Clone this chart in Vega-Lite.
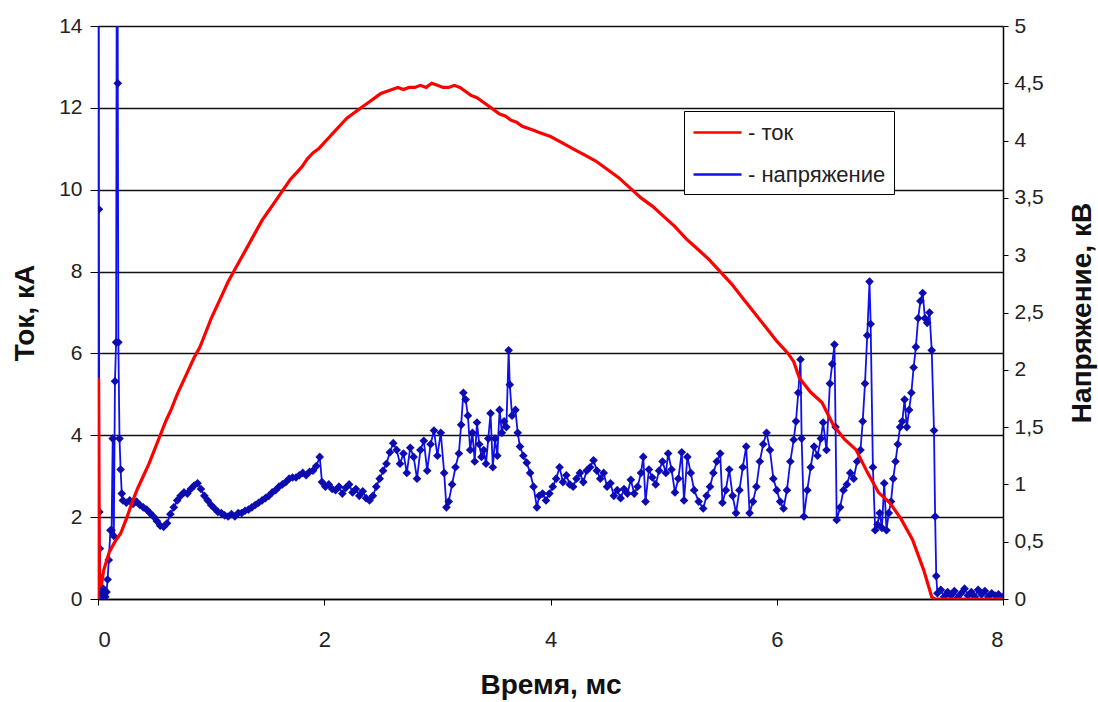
{
"$schema": "https://vega.github.io/schema/vega-lite/v6.json",
"width": 905,
"height": 573,
"autosize": "none",
"padding": {"left": 98, "top": 26, "right": 95, "bottom": 103},
"background": "white",
"config": {
  "view": {"stroke": null},
  "font": "Liberation Sans",
  "axis": {"labelFont": "Liberation Sans", "titleFont": "Liberation Sans", "labelColor": "#222", "titleColor": "#111", "domainColor": "#000", "tickColor": "#000", "labelFontSize": 21, "titleFontSize": 28, "titleFontWeight": "bold"}
},
"datasets": {
"current": [
{"t":0,"I":0},{"t":0.005,"I":5.4},{"t":0.012,"I":0.3},{"t":0.03,"I":0.35},{"t":0.05,"I":0.7},{"t":0.1,"I":1.15},{"t":0.15,"I":1.4},{"t":0.2,"I":1.6},{"t":0.25,"I":1.95},{"t":0.3,"I":2.35},{"t":0.35,"I":2.7},{"t":0.4,"I":3.0},{"t":0.45,"I":3.3},{"t":0.5,"I":3.65},{"t":0.55,"I":4.0},{"t":0.6,"I":4.35},{"t":0.65,"I":4.65},{"t":0.7,"I":5.0},{"t":0.75,"I":5.3},{"t":0.8,"I":5.6},{"t":0.85,"I":5.9},{"t":0.9,"I":6.15},{"t":0.95,"I":6.5},{"t":1.0,"I":6.85},{"t":1.05,"I":7.15},{"t":1.1,"I":7.45},{"t":1.15,"I":7.75},{"t":1.2,"I":8.0},{"t":1.25,"I":8.25},{"t":1.3,"I":8.5},{"t":1.35,"I":8.75},{"t":1.4,"I":9.0},{"t":1.45,"I":9.25},{"t":1.5,"I":9.45},{"t":1.55,"I":9.65},{"t":1.6,"I":9.85},{"t":1.65,"I":10.05},{"t":1.7,"I":10.25},{"t":1.75,"I":10.4},{"t":1.8,"I":10.55},{"t":1.85,"I":10.75},{"t":1.9,"I":10.9},{"t":1.95,"I":11.0},{"t":2.0,"I":11.15},{"t":2.05,"I":11.3},{"t":2.1,"I":11.45},{"t":2.15,"I":11.6},{"t":2.2,"I":11.75},{"t":2.25,"I":11.85},{"t":2.3,"I":11.95},{"t":2.35,"I":12.05},{"t":2.4,"I":12.15},{"t":2.45,"I":12.25},{"t":2.5,"I":12.35},{"t":2.55,"I":12.4},{"t":2.6,"I":12.45},{"t":2.65,"I":12.5},{"t":2.7,"I":12.45},{"t":2.75,"I":12.5},{"t":2.8,"I":12.5},{"t":2.85,"I":12.55},{"t":2.9,"I":12.5},{"t":2.95,"I":12.6},{"t":3.0,"I":12.55},{"t":3.05,"I":12.5},{"t":3.1,"I":12.5},{"t":3.15,"I":12.55},{"t":3.2,"I":12.5},{"t":3.25,"I":12.4},{"t":3.3,"I":12.3},{"t":3.35,"I":12.25},{"t":3.4,"I":12.15},{"t":3.45,"I":12.05},{"t":3.5,"I":11.95},{"t":3.55,"I":11.85},{"t":3.6,"I":11.8},{"t":3.65,"I":11.7},{"t":3.7,"I":11.65},{"t":3.75,"I":11.55},{"t":3.8,"I":11.5},{"t":3.85,"I":11.45},{"t":3.9,"I":11.4},{"t":3.95,"I":11.35},{"t":4.0,"I":11.3},{"t":4.1,"I":11.15},{"t":4.2,"I":11.0},{"t":4.3,"I":10.85},{"t":4.4,"I":10.7},{"t":4.5,"I":10.5},{"t":4.6,"I":10.3},{"t":4.7,"I":10.05},{"t":4.8,"I":9.8},{"t":4.9,"I":9.6},{"t":5.0,"I":9.35},{"t":5.1,"I":9.1},{"t":5.2,"I":8.8},{"t":5.3,"I":8.55},{"t":5.4,"I":8.3},{"t":5.5,"I":8.0},{"t":5.6,"I":7.7},{"t":5.7,"I":7.35},{"t":5.8,"I":7.0},{"t":5.9,"I":6.65},{"t":6.0,"I":6.3},{"t":6.1,"I":6.0},{"t":6.15,"I":5.8},{"t":6.2,"I":5.4},{"t":6.3,"I":5.05},{"t":6.4,"I":4.8},{"t":6.5,"I":4.25},{"t":6.6,"I":3.9},{"t":6.7,"I":3.65},{"t":6.8,"I":3.1},{"t":6.9,"I":2.6},{"t":7.0,"I":2.35},{"t":7.1,"I":1.95},{"t":7.2,"I":1.45},{"t":7.3,"I":0.7},{"t":7.37,"I":0.05},{"t":7.4,"I":0},{"t":7.6,"I":0},{"t":8.0,"I":0}
],
"voltage": [
{"t":0,"U":0},{"t":0.004,"U":8},{"t":0.008,"U":3.4},{"t":0.012,"U":0.76},{"t":0.016,"U":0.44},{"t":0.02,"U":0.19},{"t":0.025,"U":0.05},{"t":0.035,"U":0.1},{"t":0.045,"U":0.03},{"t":0.055,"U":0.08},{"t":0.065,"U":0.02},{"t":0.075,"U":0.06},{"t":0.085,"U":0.17},{"t":0.095,"U":0.34},{"t":0.11,"U":0.6},{"t":0.12,"U":0.6},{"t":0.13,"U":1.4},{"t":0.14,"U":0.55},{"t":0.15,"U":1.9},{"t":0.16,"U":2.24},{"t":0.17,"U":8},{"t":0.175,"U":4.5},{"t":0.18,"U":2.24},{"t":0.19,"U":1.4},{"t":0.2,"U":1.13},{"t":0.21,"U":0.92},{"t":0.22,"U":0.86},
{"t":0.25,"U":0.84},{"t":0.28,"U":0.86},{"t":0.31,"U":0.83},{"t":0.34,"U":0.85},{"t":0.37,"U":0.82},{"t":0.4,"U":0.8},{"t":0.43,"U":0.78},{"t":0.46,"U":0.75},{"t":0.49,"U":0.72},{"t":0.52,"U":0.68},{"t":0.55,"U":0.64},{"t":0.58,"U":0.63},{"t":0.61,"U":0.66},{"t":0.64,"U":0.74},{"t":0.67,"U":0.8},{"t":0.7,"U":0.86},{"t":0.73,"U":0.9},{"t":0.76,"U":0.93},{"t":0.79,"U":0.92},{"t":0.82,"U":0.96},{"t":0.85,"U":0.99},{"t":0.88,"U":1.01},{"t":0.91,"U":0.96},{"t":0.94,"U":0.9},{"t":0.97,"U":0.86},{"t":1.0,"U":0.82},{"t":1.03,"U":0.79},{"t":1.06,"U":0.76},{"t":1.09,"U":0.75},{"t":1.12,"U":0.73},{"t":1.15,"U":0.72},{"t":1.18,"U":0.74},{"t":1.21,"U":0.72},{"t":1.24,"U":0.75},{"t":1.27,"U":0.75},{"t":1.3,"U":0.77},{"t":1.33,"U":0.78},{"t":1.36,"U":0.8},{"t":1.39,"U":0.82},{"t":1.42,"U":0.84},{"t":1.45,"U":0.86},{"t":1.48,"U":0.88},{"t":1.51,"U":0.9},{"t":1.54,"U":0.93},{"t":1.57,"U":0.95},{"t":1.6,"U":0.98},{"t":1.63,"U":1.0},{"t":1.66,"U":1.02},{"t":1.69,"U":1.05},{"t":1.72,"U":1.06},{"t":1.75,"U":1.06},{"t":1.78,"U":1.08},{"t":1.81,"U":1.1},{"t":1.84,"U":1.08},{"t":1.87,"U":1.11},{"t":1.9,"U":1.12},{"t":1.93,"U":1.16},{"t":1.96,"U":1.24},{"t":1.98,"U":1.02},
{"t":2.01,"U":0.98},{"t":2.04,"U":1.0},{"t":2.07,"U":0.96},{"t":2.1,"U":0.95},{"t":2.13,"U":0.98},{"t":2.16,"U":0.92},{"t":2.19,"U":0.97},{"t":2.22,"U":1.0},{"t":2.25,"U":0.93},{"t":2.28,"U":0.96},{"t":2.31,"U":0.9},{"t":2.34,"U":0.94},{"t":2.37,"U":0.88},{"t":2.4,"U":0.86},{"t":2.43,"U":0.9},{"t":2.46,"U":0.98},{"t":2.49,"U":1.05},{"t":2.52,"U":1.12},{"t":2.55,"U":1.18},{"t":2.58,"U":1.28},{"t":2.61,"U":1.36},{"t":2.64,"U":1.3},{"t":2.67,"U":1.18},{"t":2.7,"U":1.27},{"t":2.73,"U":1.1},{"t":2.76,"U":1.32},{"t":2.79,"U":1.24},{"t":2.82,"U":1.05},{"t":2.85,"U":1.3},{"t":2.88,"U":1.38},{"t":2.91,"U":1.12},{"t":2.94,"U":1.35},{"t":2.97,"U":1.47},{"t":3.0,"U":1.25},{"t":3.03,"U":1.45},{"t":3.06,"U":1.1},{"t":3.08,"U":0.8},{"t":3.1,"U":0.85},{"t":3.13,"U":1.0},{"t":3.16,"U":1.15},{"t":3.19,"U":1.27},{"t":3.21,"U":1.52},{"t":3.23,"U":1.8},{"t":3.25,"U":1.74},{"t":3.27,"U":1.6},{"t":3.29,"U":1.3},{"t":3.31,"U":1.45},{"t":3.33,"U":1.2},{"t":3.35,"U":1.54},{"t":3.37,"U":1.35},{"t":3.39,"U":1.24},{"t":3.41,"U":1.3},{"t":3.43,"U":1.18},{"t":3.45,"U":1.4},{"t":3.47,"U":1.62},{"t":3.49,"U":1.15},{"t":3.51,"U":1.4},{"t":3.53,"U":1.25},{"t":3.55,"U":1.65},{"t":3.57,"U":1.45},{"t":3.59,"U":1.55},{"t":3.61,"U":1.5},{"t":3.63,"U":2.17},{"t":3.64,"U":1.87},{"t":3.66,"U":1.6},{"t":3.69,"U":1.65},{"t":3.71,"U":1.45},{"t":3.73,"U":1.33},{"t":3.76,"U":1.25},{"t":3.79,"U":1.19},{"t":3.82,"U":1.1},{"t":3.85,"U":0.98},{"t":3.88,"U":0.8},{"t":3.9,"U":0.9},{"t":3.93,"U":0.92},{"t":3.96,"U":0.86},{"t":3.99,"U":0.92},
{"t":4.02,"U":0.98},{"t":4.05,"U":1.05},{"t":4.08,"U":1.15},{"t":4.11,"U":1.02},{"t":4.14,"U":1.08},{"t":4.17,"U":1.0},{"t":4.2,"U":0.98},{"t":4.23,"U":1.05},{"t":4.26,"U":1.1},{"t":4.29,"U":1.02},{"t":4.32,"U":1.12},{"t":4.35,"U":1.15},{"t":4.38,"U":1.21},{"t":4.41,"U":1.12},{"t":4.44,"U":1.05},{"t":4.47,"U":1.1},{"t":4.5,"U":0.98},{"t":4.53,"U":1.01},{"t":4.56,"U":0.9},{"t":4.59,"U":0.95},{"t":4.62,"U":0.88},{"t":4.65,"U":0.96},{"t":4.68,"U":0.92},{"t":4.71,"U":1.04},{"t":4.74,"U":0.92},{"t":4.77,"U":0.98},{"t":4.8,"U":1.1},{"t":4.82,"U":1.24},{"t":4.84,"U":0.85},{"t":4.87,"U":1.13},{"t":4.9,"U":1.06},{"t":4.93,"U":1.0},{"t":4.96,"U":1.12},{"t":4.99,"U":1.2},{"t":5.02,"U":1.1},{"t":5.04,"U":1.27},{"t":5.07,"U":1.13},{"t":5.1,"U":0.93},{"t":5.13,"U":1.05},{"t":5.16,"U":1.28},{"t":5.18,"U":0.86},{"t":5.21,"U":1.24},{"t":5.24,"U":1.1},{"t":5.27,"U":0.95},{"t":5.31,"U":0.85},{"t":5.35,"U":0.79},{"t":5.38,"U":0.9},{"t":5.41,"U":0.98},{"t":5.44,"U":1.1},{"t":5.47,"U":1.2},{"t":5.5,"U":1.27},{"t":5.52,"U":0.84},{"t":5.55,"U":0.95},{"t":5.58,"U":1.13},{"t":5.61,"U":0.9},{"t":5.64,"U":0.75},{"t":5.67,"U":0.95},{"t":5.7,"U":1.15},{"t":5.73,"U":1.33},{"t":5.76,"U":0.75},{"t":5.79,"U":0.85},{"t":5.82,"U":0.98},{"t":5.85,"U":1.2},{"t":5.88,"U":1.35},{"t":5.91,"U":1.45},{"t":5.94,"U":1.3},{"t":5.97,"U":1.05},
{"t":6.0,"U":0.95},{"t":6.03,"U":0.85},{"t":6.06,"U":0.79},{"t":6.09,"U":0.95},{"t":6.12,"U":1.2},{"t":6.15,"U":1.39},{"t":6.17,"U":1.55},{"t":6.19,"U":1.8},{"t":6.21,"U":2.09},{"t":6.22,"U":1.4},{"t":6.24,"U":0.72},{"t":6.27,"U":0.95},{"t":6.3,"U":1.15},{"t":6.33,"U":1.33},{"t":6.36,"U":1.25},{"t":6.39,"U":1.4},{"t":6.41,"U":1.54},{"t":6.44,"U":1.3},{"t":6.47,"U":1.88},{"t":6.49,"U":2.05},{"t":6.51,"U":2.22},{"t":6.52,"U":1.5},{"t":6.53,"U":0.69},{"t":6.56,"U":0.8},{"t":6.59,"U":0.95},{"t":6.62,"U":1.0},{"t":6.65,"U":1.1},{"t":6.68,"U":1.05},{"t":6.71,"U":1.2},{"t":6.74,"U":1.3},{"t":6.76,"U":1.55},{"t":6.78,"U":1.88},{"t":6.8,"U":2.3},{"t":6.82,"U":2.77},{"t":6.83,"U":2.4},{"t":6.85,"U":1.15},{"t":6.87,"U":0.6},{"t":6.89,"U":0.65},{"t":6.91,"U":0.75},{"t":6.93,"U":0.62},{"t":6.95,"U":1.01},{"t":6.97,"U":0.6},{"t":6.99,"U":0.75},{"t":7.01,"U":0.85},{"t":7.03,"U":1.05},{"t":7.05,"U":1.2},{"t":7.07,"U":1.35},{"t":7.09,"U":1.5},{"t":7.11,"U":1.55},{"t":7.13,"U":1.74},{"t":7.15,"U":1.5},{"t":7.17,"U":1.65},{"t":7.19,"U":1.8},{"t":7.21,"U":2.02},{"t":7.23,"U":2.2},{"t":7.25,"U":2.45},{"t":7.27,"U":2.6},{"t":7.29,"U":2.67},{"t":7.31,"U":2.45},{"t":7.33,"U":2.41},{"t":7.35,"U":2.5},{"t":7.37,"U":2.17},{"t":7.39,"U":1.47},{"t":7.4,"U":0.72},{"t":7.41,"U":0.2},{"t":7.42,"U":0.05},{"t":7.45,"U":0.08},{"t":7.48,"U":0.02},{"t":7.51,"U":0.06},{"t":7.54,"U":0.03},{"t":7.57,"U":0.07},{"t":7.6,"U":0.01},{"t":7.63,"U":0.05},{"t":7.66,"U":0.09},{"t":7.69,"U":0.03},{"t":7.72,"U":0.06},{"t":7.75,"U":0.02},{"t":7.78,"U":0.08},{"t":7.81,"U":0.04},{"t":7.84,"U":0.07},{"t":7.87,"U":0.02},{"t":7.9,"U":0.05},{"t":7.93,"U":0.03},{"t":7.96,"U":0.04},{"t":8.0,"U":0.02}
]
},
"layer": [
  {
    "data": {"name": "voltage"},
    "encoding": {
      "x": {"field": "t", "type": "quantitative", "scale": {"domain": [0, 8], "nice": false},
        "axis": {"values": [0, 2, 4, 6, 8], "format": "d", "title": "Время, мс", "grid": false, "tickSize": 6, "labelPadding": 24, "labelFontSize": 22, "titlePadding": 21, "domainWidth": 1.5}},
      "y": {"field": "U", "type": "quantitative", "scale": {"domain": [0, 5], "nice": false},
        "axis": {"orient": "right", "values": [0, 0.5, 1, 1.5, 2, 2.5, 3, 3.5, 4, 4.5, 5], "labelExpr": "replace(format(datum.value, '.1~f'), '.', ',')", "title": "Напряжение, кВ", "titleAngle": 270, "titleBaseline": "top", "grid": false, "tickSize": 5, "labelPadding": 6, "titlePadding": 25, "domainWidth": 1.5}}
    },
    "layer": [
      {"mark": {"type": "line", "strokeWidth": 1.8, "clip": true}, "encoding": {"color": {"datum": "- напряжение", "type": "nominal", "scale": {"domain": ["- ток", "- напряжение"], "range": ["#ff0000", "#1010ee"]},
        "legend": {"orient": "none", "legendX": 586, "legendY": 85, "title": null, "symbolType": "M-1,0H3", "symbolSize": 576, "symbolStrokeWidth": 2.5, "labelFontSize": 22, "labelFont": "Liberation Sans", "labelColor": "#222", "labelOffset": 29, "padding": 8, "rowPadding": 17, "strokeColor": "#000", "fillColor": "#fff", "labelLimit": 300}}}},
      {"mark": {"type": "point", "shape": "diamond", "filled": true, "size": 75, "color": "#0c0cb0", "opacity": 1, "clip": true}}
    ]
  },
  {
    "data": {"name": "current"},
    "mark": {"type": "line", "strokeWidth": 3.2, "clip": true},
    "encoding": {
      "x": {"field": "t", "type": "quantitative", "scale": {"domain": [0, 8], "nice": false}, "axis": {"values": [0, 2, 4, 6, 8], "format": "d", "title": "Время, мс", "grid": false, "tickSize": 6, "labelPadding": 24, "labelFontSize": 22, "titlePadding": 21, "domainWidth": 1.5}},
      "y": {"field": "I", "type": "quantitative", "scale": {"domain": [0, 14], "nice": false},
        "axis": {"orient": "left", "values": [0, 2, 4, 6, 8, 10, 12, 14], "title": "Ток, кА", "grid": true, "gridColor": "#111", "gridWidth": 1.3, "tickSize": 8, "labelPadding": 8, "titlePadding": 19, "domainWidth": 1.5}},
      "color": {"datum": "- ток", "type": "nominal"}
    }
  }
],
"resolve": {"scale": {"y": "independent"}}
}
